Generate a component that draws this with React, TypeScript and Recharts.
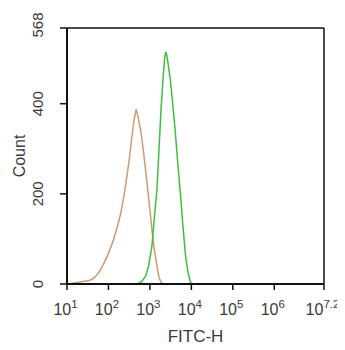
import { LineChart, Line, XAxis, YAxis, ReferenceLine } from "recharts";

// x values are log10(FITC-H), y values are counts
const orangeX = [1.0, 1.1, 1.2, 1.35, 1.5, 1.6, 1.7, 1.8, 1.9, 2.0, 2.1, 2.2, 2.3, 2.4, 2.5, 2.57, 2.62, 2.67, 2.72, 2.78, 2.85, 2.93, 3.0, 3.05, 3.1, 3.17, 3.22, 3.27, 3.32];
const orangeY = [0, 1, 3, 5, 7, 10, 18, 30, 48, 68, 92, 122, 158, 210, 275, 330, 365, 388, 368, 340, 290, 225, 165, 120, 80, 40, 15, 3, 0];

const greenX = [2.7, 2.8, 2.9, 2.97, 3.05, 3.1, 3.17, 3.22, 3.27, 3.32, 3.36, 3.39, 3.43, 3.49, 3.55, 3.61, 3.67, 3.74, 3.8, 3.86, 3.92, 3.98, 4.03];
const greenY = [0, 5, 18, 40, 85, 140, 210, 300, 390, 460, 505, 515, 495, 455, 400, 340, 270, 195, 125, 62, 25, 4, 0];

const xMajorTicks = [1, 2, 3, 4, 5, 6, 7.2];
const xMinorMult = [2, 3, 4, 5, 6, 7, 8, 9];
const yMajorTicks = [0, 200, 400, 568];
const yMinorTicks = [40, 80, 120, 160, 240, 280, 320, 360, 440, 480, 520, 560];

const orangeData = orangeX.map((x, i) => ({ x, count: orangeY[i] }));
const greenData = greenX.map((x, i) => ({ x, count: greenY[i] }));

const xMinorTicks: number[] = [];
for (let d = 1; d <= 6; d++) {
  xMinorMult.forEach((m) => xMinorTicks.push(d + Math.log10(m)));
}
xMinorTicks.push(7);

const TEXT = "#3a3a3a";
const FONT = "Liberation Sans, Arial, sans-serif";

function LogTick({ x, y, payload }: any) {
  return (
    <text x={x - 1.5} y={y + 23} textAnchor="middle" fill={TEXT} fontFamily={FONT} fontSize={16}>
      <tspan>10</tspan>
      <tspan dy={-7} fontSize={11.5}>{payload.value}</tspan>
    </text>
  );
}

function CountTick({ x, y, payload }: any) {
  const cy = payload.value === 568 ? y - 3 : y;
  return (
    <text
      x={x - 17}
      y={cy}
      textAnchor="middle"
      fill={TEXT}
      fontFamily={FONT}
      fontSize={15}
      transform={`rotate(-90, ${x - 17}, ${cy})`}
    >
      {payload.value}
    </text>
  );
}

const Empty = () => <g />;

export default function App() {
  return (
    <div style={{ width: 329, height: 334, overflow: "visible" }}>
      <style>{`html, body { overflow: hidden; } .recharts-wrapper, .recharts-surface { overflow: visible !important; }`}</style>
      <LineChart width={329} height={334} margin={{ top: 20, right: 13, bottom: 0, left: 0 }}>
        <XAxis
          xAxisId="minor"
          type="number"
          dataKey="x"
          domain={[1, 7.2]}
          allowDataOverflow
          ticks={xMinorTicks}
          interval={0}
          height={0}
          axisLine={false}
          tickSize={3}
          tickLine={{ stroke: "#222", strokeWidth: 1 }}
          tick={<Empty />}
        />
        <XAxis
          xAxisId="major"
          type="number"
          dataKey="x"
          domain={[1, 7.2]}
          allowDataOverflow
          ticks={xMajorTicks}
          interval={0}
          height={58}
          tickSize={6}
          tickMargin={2}
          axisLine={{ stroke: "#111", strokeWidth: 2 }}
          tickLine={{ stroke: "#111", strokeWidth: 1.5 }}
          tick={<LogTick />}
          label={{
            content: ({ viewBox }: any) => (
              <text
                x={viewBox.x + viewBox.width / 2}
                y={viewBox.y + 58}
                textAnchor="middle"
                fill={TEXT}
                fontFamily={FONT}
                fontSize={17}
              >
                FITC-H
              </text>
            ),
          }}
        />
        <YAxis
          yAxisId="minor"
          type="number"
          domain={[0, 568]}
          allowDataOverflow
          ticks={yMinorTicks}
          interval={0}
          width={0}
          axisLine={false}
          tickSize={3}
          tickLine={{ stroke: "#222", strokeWidth: 1 }}
          tick={<Empty />}
        />
        <YAxis
          yAxisId="major"
          type="number"
          domain={[0, 568]}
          allowDataOverflow
          ticks={yMajorTicks}
          interval={0}
          width={59}
          tickSize={7}
          tickMargin={0}
          axisLine={{ stroke: "#111", strokeWidth: 2 }}
          tickLine={{ stroke: "#111", strokeWidth: 1.5 }}
          tick={<CountTick />}
          label={{
            content: ({ viewBox }: any) => {
              const cx = viewBox.x + 17;
              const cy = viewBox.y + viewBox.height / 2;
              return (
                <text
                  x={cx}
                  y={cy}
                  textAnchor="middle"
                  fill={TEXT}
                  fontFamily={FONT}
                  fontSize={16}
                  transform={`rotate(-90, ${cx}, ${cy})`}
                >
                  Count
                </text>
              );
            },
          }}
        />
        <ReferenceLine xAxisId="major" yAxisId="major" y={568} stroke="#111" strokeWidth={1.5} />
        <ReferenceLine xAxisId="major" yAxisId="major" x={7.2} stroke="#111" strokeWidth={1.5} />
        <Line
          xAxisId="major"
          yAxisId="major"
          data={orangeData}
          dataKey="count"
          type="linear"
          stroke="#d09a72"
          strokeWidth={1.5}
          dot={false}
          isAnimationActive={false}
        />
        <Line
          xAxisId="major"
          yAxisId="major"
          data={greenData}
          dataKey="count"
          type="linear"
          stroke="#3fbf3f"
          strokeWidth={1.5}
          dot={false}
          isAnimationActive={false}
        />
      </LineChart>
    </div>
  );
}
